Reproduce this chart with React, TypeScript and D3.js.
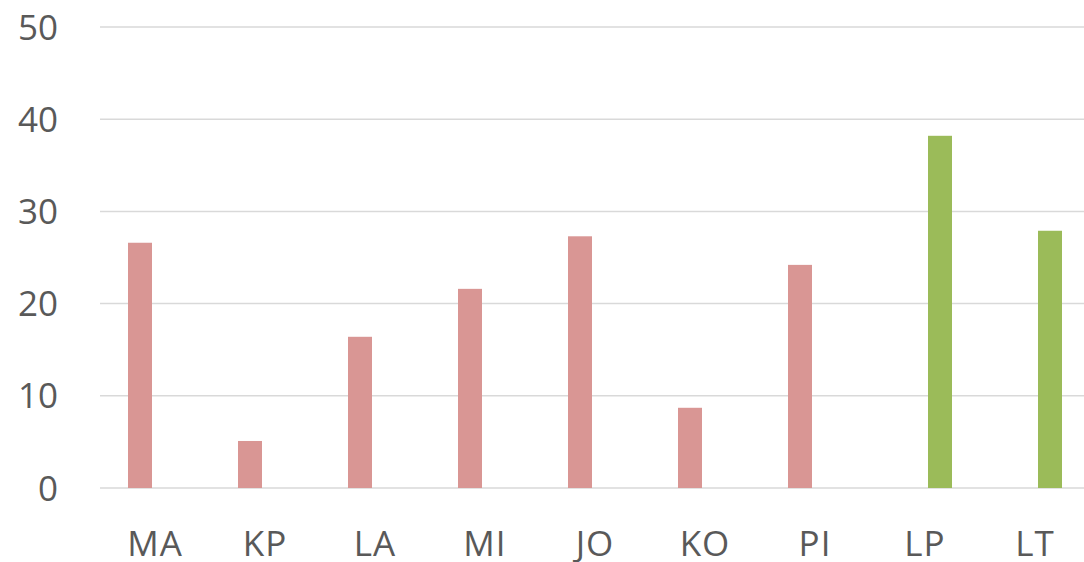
import React, { useRef, useEffect } from "react";
import * as d3 from "d3";

const categories = ["MA", "KP", "LA", "MI", "JO", "KO", "PI", "LP", "LT"];
const seriesNames = ["A", "B"];
// null = no bar for that series
const seriesA = [26.6, 5.1, 16.4, 21.6, 27.3, 8.7, 24.2, null, null];
const seriesB = [null, null, null, null, null, null, null, 38.2, 27.9];
const yTicks = [0, 10, 20, 30, 40, 50];
const colors = ["#D99694", "#9BBB59"];

const App: React.FC = () => {
  const svgRef = useRef<SVGSVGElement>(null);

  useEffect(() => {
    if (!svgRef.current) return;
    const width = 1084;
    const height = 562;
    const left = 100;
    const top = 27;
    const bottom = 488;

    const svg = d3.select(svgRef.current).attr("width", width).attr("height", height);
    svg.selectAll("*").remove();

    const x = d3.scaleBand<string>().domain(categories).range([left, left + 990]).padding(0);
    const xSub = d3.scaleBand<string>().domain(seriesNames).range([-27, 27]).paddingInner(0.2).paddingOuter(0);
    const y = d3.scaleLinear().domain([0, 50]).range([bottom, top]);

    // gridlines
    svg
      .append("g")
      .selectAll("line")
      .data(yTicks)
      .enter()
      .append("line")
      .attr("x1", left)
      .attr("x2", width)
      .attr("y1", (d) => y(d))
      .attr("y2", (d) => y(d))
      .attr("stroke", "#d9d9d9")
      .attr("stroke-width", 1.5);

    // y tick labels
    svg
      .append("g")
      .selectAll("text")
      .data(yTicks)
      .enter()
      .append("text")
      .attr("x", 58)
      .attr("y", (d) => y(d))
      .attr("dy", "0.36em")
      .attr("text-anchor", "end")
      .attr("fill", "#595959")
      .style("font-family", "'Open Sans', sans-serif")
      .style("font-size", "35px")
      .text((d) => d);

    const allSeries = [seriesA, seriesB];
    allSeries.forEach((vals, si) => {
      svg
        .append("g")
        .selectAll("rect")
        .data(categories.map((c, i) => ({ c, v: vals[i] })).filter((d) => d.v != null))
        .enter()
        .append("rect")
        .attr("x", (d) => x(d.c)! + x.bandwidth() / 2 + xSub(seriesNames[si])!)
        .attr("width", xSub.bandwidth())
        .attr("y", (d) => y(d.v as number))
        .attr("height", (d) => bottom - y(d.v as number))
        .attr("fill", colors[si]);
    });

    // x labels
    svg
      .append("g")
      .selectAll("text")
      .data(categories)
      .enter()
      .append("text")
      .attr("x", (d) => x(d)! + x.bandwidth() / 2)
      .attr("y", 556)
      .attr("text-anchor", "middle")
      .attr("fill", "#595959")
      .style("font-family", "'Open Sans', sans-serif")
      .style("font-size", "35px")
      .style("letter-spacing", "1px")
      .text((d) => d);
  }, []);

  return (
    <div style={{ position: "absolute", left: 0, top: 0, background: "#fff" }}>
      <svg ref={svgRef}></svg>
    </div>
  );
};

export default App;
